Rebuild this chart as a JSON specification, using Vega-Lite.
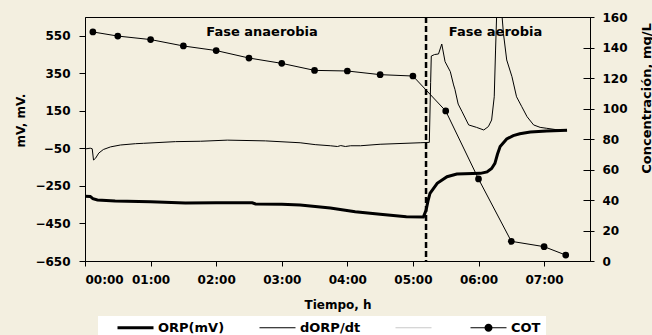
{
  "$schema": "https://vega.github.io/schema/vega-lite/v6.json",
  "width": 505,
  "height": 244,
  "autosize": {"type": "none"},
  "padding": {"left": 85, "top": 17, "right": 62, "bottom": 74},
  "background": "#f3efe0",
  "config": {
    "view": {"stroke": "black", "strokeWidth": 1},
    "axis": {
      "labelFont": "DejaVu Sans", "labelFontWeight": "bold", "labelFontSize": 12, "labelColor": "black",
      "titleFont": "DejaVu Sans", "titleFontWeight": "bold", "titleFontSize": 12, "titleColor": "black",
      "domainColor": "black", "tickColor": "black", "grid": false
    }
  },
  "datasets": {
    "orp": [
      {"h": 0, "v": -305}, {"h": 0.08, "v": -306}, {"h": 0.12, "v": -318}, {"h": 0.19, "v": -325},
      {"h": 0.46, "v": -330}, {"h": 1.0, "v": -334}, {"h": 1.53, "v": -341}, {"h": 2.0, "v": -339},
      {"h": 2.55, "v": -340}, {"h": 2.6, "v": -346}, {"h": 3.0, "v": -348}, {"h": 3.28, "v": -352},
      {"h": 3.74, "v": -368}, {"h": 4.12, "v": -387}, {"h": 4.5, "v": -401}, {"h": 4.9, "v": -414},
      {"h": 5.16, "v": -415}, {"h": 5.2, "v": -380}, {"h": 5.23, "v": -330}, {"h": 5.26, "v": -290},
      {"h": 5.37, "v": -236}, {"h": 5.52, "v": -201}, {"h": 5.67, "v": -187}, {"h": 6.03, "v": -183},
      {"h": 6.13, "v": -175}, {"h": 6.2, "v": -157}, {"h": 6.25, "v": -130}, {"h": 6.29, "v": -80},
      {"h": 6.33, "v": -40}, {"h": 6.43, "v": 0}, {"h": 6.53, "v": 18}, {"h": 6.63, "v": 28},
      {"h": 6.79, "v": 37}, {"h": 7.04, "v": 43}, {"h": 7.35, "v": 46}
    ],
    "dorp": [
      {"h": 0, "v": -53}, {"h": 0.08, "v": -49}, {"h": 0.11, "v": -52}, {"h": 0.13, "v": -112},
      {"h": 0.16, "v": -103}, {"h": 0.21, "v": -75}, {"h": 0.28, "v": -56}, {"h": 0.39, "v": -42},
      {"h": 0.54, "v": -32}, {"h": 0.77, "v": -25}, {"h": 0.89, "v": -23}, {"h": 1.38, "v": -14},
      {"h": 1.76, "v": -12}, {"h": 2.17, "v": -6}, {"h": 2.75, "v": -10}, {"h": 3.28, "v": -20},
      {"h": 3.51, "v": -30}, {"h": 3.74, "v": -36}, {"h": 3.85, "v": -40}, {"h": 3.9, "v": -35},
      {"h": 3.97, "v": -40}, {"h": 4.05, "v": -36}, {"h": 4.2, "v": -36}, {"h": 4.5, "v": -28},
      {"h": 5.11, "v": -20}, {"h": 5.25, "v": -18}, {"h": 5.27, "v": 300}, {"h": 5.28, "v": 442},
      {"h": 5.33, "v": 450}, {"h": 5.39, "v": 453}, {"h": 5.44, "v": 506}, {"h": 5.49, "v": 412},
      {"h": 5.57, "v": 359}, {"h": 5.62, "v": 288}, {"h": 5.64, "v": 265}, {"h": 5.69, "v": 186},
      {"h": 5.75, "v": 145}, {"h": 5.85, "v": 75}, {"h": 5.97, "v": 62}, {"h": 6.08, "v": 48},
      {"h": 6.15, "v": 66}, {"h": 6.2, "v": 101}, {"h": 6.24, "v": 225}, {"h": 6.26, "v": 474},
      {"h": 6.28, "v": 700}, {"h": 6.31, "v": 760}, {"h": 6.34, "v": 720}, {"h": 6.36, "v": 650},
      {"h": 6.38, "v": 563}, {"h": 6.43, "v": 421}, {"h": 6.51, "v": 332}, {"h": 6.58, "v": 225},
      {"h": 6.66, "v": 172}, {"h": 6.74, "v": 119}, {"h": 6.84, "v": 75}, {"h": 6.94, "v": 62},
      {"h": 7.04, "v": 57}, {"h": 7.18, "v": 50}, {"h": 7.35, "v": 44}
    ],
    "cot": [
      {"h": 0.12, "c": 150.2}, {"h": 0.5, "c": 147.5}, {"h": 1.0, "c": 145.2}, {"h": 1.5, "c": 141.0},
      {"h": 2.0, "c": 138.0}, {"h": 2.5, "c": 133.1}, {"h": 3.0, "c": 129.6}, {"h": 3.5, "c": 125.0},
      {"h": 4.0, "c": 124.6}, {"h": 4.5, "c": 122.2}, {"h": 5.0, "c": 121.3}, {"h": 5.5, "c": 98.4},
      {"h": 6.0, "c": 53.8}, {"h": 6.5, "c": 12.9}, {"h": 7.0, "c": 9.4}, {"h": 7.33, "c": 3.9}
    ],
    "notes": [
      {"h": 2.7, "v": 570, "label": "Fase anaerobia"},
      {"h": 6.26, "v": 570, "label": "Fase aerobia"}
    ],
    "phase": [{"h": 5.2}],
    "legendrows": [
      {"series": "ORP(mV)"}, {"series": "dORP/dt"}, {"series": " "}, {"series": "COT"}
    ]
  },
  "encoding": {
    "x": {
      "field": "h", "type": "quantitative",
      "scale": {"domain": [0, 7.7], "nice": false, "zero": false},
      "axis": {
        "values": [0, 1, 2, 3, 4, 5, 6, 7],
        "labelExpr": "'0' + datum.value + ':00'",
        "title": "Tiempo, h", "tickSize": 5, "labelPadding": 8,
        "titleY": 47, "titleBaseline": "alphabetic"
      }
    }
  },
  "layer": [
    {
      "layer": [
        {
          "data": {"name": "dorp"},
          "mark": {"type": "line", "color": "black", "strokeWidth": 1, "clip": true},
          "encoding": {
            "y": {
              "field": "v", "type": "quantitative",
              "scale": {"domain": [-650, 650], "nice": false, "zero": false},
              "axis": {
                "values": [-650, -450, -250, -50, 150, 350, 550],
                "title": "mV, mV.", "tickSize": 6, "labelPadding": 9,
                "titleAngle": 270, "titleX": -65, "titleY": 103,
                "titleAlign": "center", "titleBaseline": "middle"
              }
            }
          }
        },
        {
          "data": {"name": "orp"},
          "mark": {"type": "line", "color": "black", "strokeWidth": 3},
          "encoding": {"y": {"field": "v", "type": "quantitative"}}
        },
        {
          "data": {"name": "phase"},
          "mark": {"type": "rule", "color": "black", "strokeWidth": 2.5, "strokeDash": [6, 3]},
          "encoding": {"x": {"field": "h", "type": "quantitative"}}
        },
        {
          "data": {"name": "notes"},
          "mark": {"type": "text", "font": "DejaVu Sans", "fontWeight": "bold", "fontSize": 13, "color": "black", "align": "center", "baseline": "middle"},
          "encoding": {
            "y": {"field": "v", "type": "quantitative"},
            "text": {"field": "label", "type": "nominal"}
          }
        }
      ]
    },
    {
      "data": {"name": "cot"},
      "mark": {"type": "line", "color": "black", "strokeWidth": 1, "point": {"filled": true, "color": "black", "size": 45}},
      "encoding": {
        "y": {
          "field": "c", "type": "quantitative",
          "scale": {"domain": [0, 160], "nice": false, "zero": true},
          "axis": {
            "orient": "right", "values": [0, 20, 40, 60, 80, 100, 120, 140, 160],
            "title": "Concentración, mg/L", "tickSize": 4, "labelPadding": 8,
            "titleAngle": 270, "titleX": 56, "titleY": 81,
            "titleAlign": "center", "titleBaseline": "middle", "titleFontSize": 13
          }
        }
      }
    },
    {
      "data": {"name": "legendrows"},
      "mark": {"type": "point", "filled": true},
      "encoding": {
        "y": {
          "field": "k", "type": "quantitative",
          "scale": {"domain": [0, 160], "nice": false, "zero": true},
          "axis": {
            "orient": "right", "values": [0, 20, 40, 60, 80, 100, 120, 140, 160],
            "title": null, "labels": false, "domain": false, "tickSize": -7
          }
        },
        "shape": {
          "field": "series", "type": "nominal",
          "scale": {
            "domain": ["ORP(mV)", "dORP/dt", " ", "COT"],
            "range": [
              "M-3,-0.25H3V0.25H-3Z",
              "M-3,-0.085H3V0.085H-3Z",
              "M-3,-0.085H3V0.085H-3Z",
              "M-3,-0.085H3V0.085H-3Z M0.67,0A0.67,0.67 0 1,1 -0.67,0A0.67,0.67 0 1,1 0.67,0Z"
            ]
          },
          "legend": {
            "title": null, "orient": "none", "legendX": 13, "legendY": 299,
            "direction": "horizontal", "columns": 4, "symbolSize": 144,
            "symbolStrokeWidth": 0, "symbolOpacity": 1, "symbolOffset": 26,
            "labelFont": "DejaVu Sans", "labelFontWeight": "bold", "labelFontSize": 13,
            "labelColor": "black", "labelOffset": 16, "columnPadding": 20,
            "padding": 5, "fillColor": "white"
          }
        },
        "fill": {
          "field": "series", "type": "nominal",
          "scale": {
            "domain": ["ORP(mV)", "dORP/dt", " ", "COT"],
            "range": ["black", "black", "#c8c8c8", "black"]
          },
          "legend": {
            "title": null, "orient": "none", "legendX": 13, "legendY": 299,
            "direction": "horizontal", "columns": 4, "symbolSize": 144,
            "symbolStrokeWidth": 0, "symbolOpacity": 1, "symbolOffset": 26,
            "labelFont": "DejaVu Sans", "labelFontWeight": "bold", "labelFontSize": 13,
            "labelColor": "black", "labelOffset": 16, "columnPadding": 20,
            "padding": 5, "fillColor": "white"
          }
        }
      }
    }
  ],
  "resolve": {"scale": {"y": "independent"}}
}
